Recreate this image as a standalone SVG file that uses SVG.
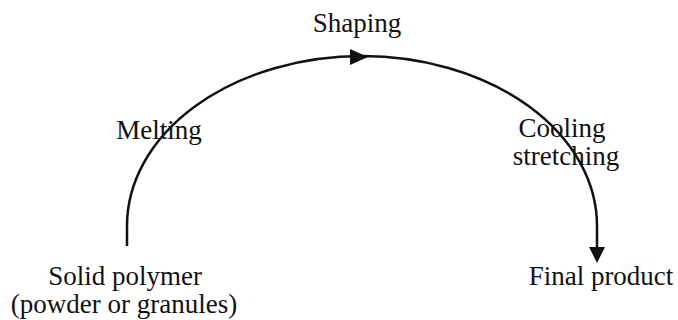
<svg xmlns="http://www.w3.org/2000/svg" width="678" height="320" viewBox="0 0 678 320">
<style>
text{font-family:"Liberation Serif","Times New Roman",serif;font-size:27px;fill:#111;}
.c{stroke:#111;stroke-width:2.5;fill:none;}
.ah{fill:#111;}
</style>
<rect width="678" height="320" fill="#fff"/>
<g id="connectors">
<path class="c" d="M127,246 L127,226 A235,170 0 0 1 597,226 L597,250"/>
<path class="ah" d="M350,49 L368,57 L350,65 Z"/>
<path class="ah" d="M589,247 L605,247 L597,263 Z"/>
</g>
<g id="shaping"><text x="357" y="32" text-anchor="middle">Shaping</text></g>
<g id="melting"><text x="159" y="139" text-anchor="middle">Melting</text></g>
<g id="cooling"><text x="562" y="137" text-anchor="middle">Cooling</text><text x="566" y="165" text-anchor="middle">stretching</text></g>
<g id="solid"><text x="125" y="285" text-anchor="middle">Solid polymer</text><text x="124" y="313" text-anchor="middle">(powder or granules)</text></g>
<g id="final"><text x="601" y="285" text-anchor="middle">Final product</text></g>
</svg>
